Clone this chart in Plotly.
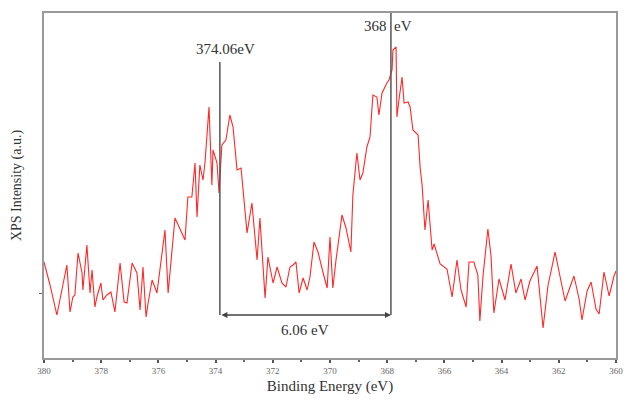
import plotly.graph_objects as go

# Binding energy (eV) and XPS intensity (a.u.)
energy = [380.00, 379.79, 379.55, 379.37, 379.20, 379.09, 378.99, 378.92, 378.81, 378.67,
          378.64, 378.50, 378.46, 378.39, 378.32, 378.22, 378.15, 378.01, 377.94, 377.80,
          377.66, 377.52, 377.34, 377.27, 377.20, 377.10, 376.92, 376.75, 376.64, 376.54,
          376.43, 376.36, 376.22, 376.05, 375.91, 375.77, 375.66, 375.42, 375.07, 374.97,
          374.83, 374.72, 374.65, 374.55, 374.44, 374.37, 374.23, 374.13, 374.09, 373.95,
          373.88, 373.78, 373.64, 373.50, 373.39, 373.25, 373.11, 372.90, 372.73, 372.55,
          372.45, 372.34, 372.27, 372.17, 371.99, 371.85, 371.68, 371.54, 371.40, 371.29,
          371.19, 371.08, 370.94, 370.80, 370.70, 370.56, 370.42, 370.24, 370.10, 370.00,
          369.90, 369.79, 369.58, 369.44, 369.27, 369.20, 369.06, 368.95, 368.85, 368.71,
          368.60, 368.50, 368.36, 368.29, 368.18, 368.01, 367.94, 367.83, 367.80, 367.69,
          367.66, 367.59, 367.48, 367.41, 367.27, 367.20, 367.10, 366.92, 366.85, 366.78,
          366.68, 366.57, 366.43, 366.36, 366.15, 365.91, 365.73, 365.56, 365.42, 365.24,
          365.14, 364.97, 364.83, 364.76, 364.65, 364.48, 364.37, 364.27, 364.09, 363.88,
          363.67, 363.50, 363.32, 363.18, 363.01, 362.76, 362.66, 362.55, 362.38, 362.13,
          361.96, 361.78, 361.47, 361.29, 361.19, 361.01, 360.87, 360.70, 360.59, 360.42,
          360.24, 360.07, 360.00]
intensity = [96, 73, 43, 68, 93, 46, 61, 63, 105, 85,
             68, 113, 91, 65, 88, 51, 61, 75, 58, 63,
             66, 46, 95, 75, 56, 55, 95, 85, 48, 91,
             41, 55, 78, 65, 96, 128, 65, 140, 118, 161,
             161, 195, 141, 193, 178, 196, 251, 173, 208, 195,
             165, 213, 218, 243, 231, 188, 190, 125, 155, 98,
             140, 95, 60, 101, 75, 91, 75, 71, 91, 93,
             96, 65, 80, 68, 81, 116, 106, 85, 70, 121,
             70, 98, 143, 130, 106, 163, 205, 178, 185, 211,
             221, 263, 261, 243, 265, 275, 278, 288, 308, 311,
             241, 258, 281, 255, 256, 251, 228, 223, 191, 173,
             128, 158, 108, 114, 94, 89, 61, 98, 68, 51,
             96, 96, 83, 37, 82, 129, 102, 45, 79, 58,
             94, 65, 79, 58, 77, 92, 62, 30, 72, 106,
             82, 57, 82, 59, 38, 67, 76, 49, 44, 86,
             62, 82, 87]

tick_vals = [380, 378, 376, 374, 372, 370, 368, 366, 364, 362, 360]
tick_text = [str(v) for v in tick_vals]

peak_pos = [373.85, 367.87]
peak_labels = ["374.06eV", "368  eV"]
split_label = "6.06 eV"

serif = "Liberation Serif, Times New Roman, serif"

fig = go.Figure()
fig.add_trace(go.Scatter(x=energy, y=intensity, mode="lines",
                         line=dict(color="rgb(255,40,40)", width=1.1),
                         showlegend=False, hoverinfo="skip"))

# vertical markers
fig.add_shape(type="line", x0=peak_pos[0], x1=peak_pos[0], y0=43, y1=296,
              xref="x", yref="y", line=dict(color="#555", width=1.5))
fig.add_shape(type="line", x0=peak_pos[1], x1=peak_pos[1], y0=43, y1=345,
              xref="x", yref="y", line=dict(color="#555", width=1.5))
# double arrow between peaks
fig.add_annotation(x=peak_pos[1], y=43, ax=peak_pos[0], ay=43, xref="x", yref="y",
                   axref="x", ayref="y", text="", showarrow=True,
                   arrowhead=2, arrowside="end+start", arrowsize=0.8,
                   arrowwidth=1.5, arrowcolor="#444")
fig.add_annotation(x=(peak_pos[0] + peak_pos[1]) / 2, y=28, xref="x", yref="y",
                   text=split_label, showarrow=False,
                   font=dict(family=serif, size=15, color="#333"))
fig.add_annotation(x=peak_pos[0] - 0.2, y=309, xref="x", yref="y",
                   text=peak_labels[0], showarrow=False,
                   font=dict(family=serif, size=15, color="#333"))
fig.add_annotation(x=peak_pos[1] + 0.1, y=332, xref="x", yref="y",
                   text=peak_labels[1], showarrow=False,
                   font=dict(family=serif, size=15, color="#333"))

fig.update_layout(
    width=624, height=403,
    margin=dict(l=44, r=8, t=13, b=45),
    paper_bgcolor="white", plot_bgcolor="white",
    font=dict(family=serif, color="#333"),
)
fig.update_xaxes(
    range=[380, 360], tickvals=tick_vals, ticktext=tick_text,
    ticks="outside", ticklen=3, tickcolor="#555", tickwidth=1.5,
    minor=dict(dtick=1, ticks="outside", ticklen=2, tickcolor="#666"),
    showline=True, linecolor="#999", linewidth=2, mirror=True,
    showgrid=False, zeroline=False, automargin=False,
    tickfont=dict(family=serif, size=9, color="#666"),
    title=dict(text="Binding Energy (eV)", font=dict(family=serif, size=15, color="#333"),
               standoff=6),
)
fig.update_yaxes(
    range=[0, 345], tickvals=[65], showticklabels=False,
    ticks="outside", ticklen=3, tickcolor="#666",
    showline=True, linecolor="#999", linewidth=2, mirror=True,
    showgrid=False, zeroline=False, automargin=False,
    title=dict(text="XPS Intensity (a.u.)", font=dict(family=serif, size=14, color="#333"),
               standoff=14),
)

fig.write_html("out.html",
               config={"displayModeBar": False},
               post_script="document.body.style.margin='0';document.body.style.overflow='hidden';")
